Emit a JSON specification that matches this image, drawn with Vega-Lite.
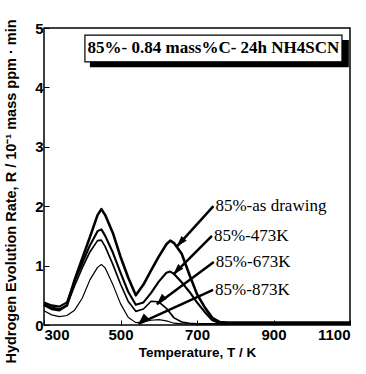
{
  "$schema": "https://vega.github.io/schema/vega-lite/v6.json",
  "width": 306,
  "height": 297,
  "autosize": {"type": "none"},
  "padding": {"left": 44, "top": 28, "right": 16, "bottom": 49},
  "background": "white",
  "datasets": {
    "tds": [
      {"T": 300, "ad": 0.34, "k473": 0.38, "k673": 0.35, "k873": 0.24},
      {"T": 320, "ad": 0.27, "k473": 0.33, "k673": 0.30, "k873": 0.17},
      {"T": 340, "ad": 0.25, "k473": 0.31, "k673": 0.27, "k873": 0.14},
      {"T": 360, "ad": 0.33, "k473": 0.38, "k673": 0.33, "k873": 0.16},
      {"T": 380, "ad": 0.76, "k473": 0.74, "k673": 0.66, "k873": 0.25},
      {"T": 400, "ad": 1.12, "k473": 1.04, "k673": 0.96, "k873": 0.45},
      {"T": 420, "ad": 1.48, "k473": 1.34, "k673": 1.23, "k873": 0.76},
      {"T": 440, "ad": 1.85, "k473": 1.58, "k673": 1.42, "k873": 0.97},
      {"T": 450, "ad": 1.95, "k473": 1.61, "k673": 1.43, "k873": 1.02},
      {"T": 460, "ad": 1.85, "k473": 1.50, "k673": 1.32, "k873": 0.96},
      {"T": 480, "ad": 1.55, "k473": 1.22, "k673": 1.02, "k873": 0.68},
      {"T": 500, "ad": 1.15, "k473": 0.88, "k673": 0.69, "k873": 0.36},
      {"T": 520, "ad": 0.80, "k473": 0.56, "k673": 0.40, "k873": 0.13},
      {"T": 540, "ad": 0.50, "k473": 0.34, "k673": 0.23, "k873": 0.04},
      {"T": 560, "ad": 0.68, "k473": 0.38, "k673": 0.27, "k873": 0.05},
      {"T": 580, "ad": 0.92, "k473": 0.54, "k673": 0.40, "k873": 0.08},
      {"T": 600, "ad": 1.15, "k473": 0.73, "k673": 0.39, "k873": 0.09},
      {"T": 620, "ad": 1.36, "k473": 0.88, "k673": 0.28, "k873": 0.07},
      {"T": 630, "ad": 1.42, "k473": 0.90, "k673": 0.20, "k873": 0.05},
      {"T": 640, "ad": 1.38, "k473": 0.86, "k673": 0.12, "k873": 0.03},
      {"T": 660, "ad": 1.20, "k473": 0.72, "k673": 0.05, "k873": 0.02},
      {"T": 680, "ad": 0.85, "k473": 0.56, "k673": 0.03, "k873": 0.02},
      {"T": 700, "ad": 0.52, "k473": 0.38, "k673": 0.02, "k873": 0.02},
      {"T": 720, "ad": 0.30, "k473": 0.22, "k673": 0.02, "k873": 0.02},
      {"T": 740, "ad": 0.12, "k473": 0.08, "k673": 0.02, "k873": 0.02},
      {"T": 760, "ad": 0.05, "k473": 0.03, "k673": 0.02, "k873": 0.02},
      {"T": 780, "ad": 0.04, "k473": 0.02, "k673": 0.02, "k873": 0.02},
      {"T": 800, "ad": 0.04, "k473": 0.02, "k673": 0.02, "k873": 0.02},
      {"T": 900, "ad": 0.04, "k473": 0.02, "k673": 0.02, "k873": 0.02},
      {"T": 1000, "ad": 0.04, "k473": 0.02, "k673": 0.02, "k873": 0.02},
      {"T": 1100, "ad": 0.04, "k473": 0.02, "k673": 0.02, "k873": 0.02}
    ],
    "callouts": [
      {"label": "85%-as drawing", "T": 743, "R": 2.0, "tipT": 647, "tipR": 1.32},
      {"label": "85%-473K", "T": 739, "R": 1.5, "tipT": 638, "tipR": 0.85},
      {"label": "85%-673K", "T": 744, "R": 1.06, "tipT": 595, "tipR": 0.35},
      {"label": "85%-873K", "T": 742, "R": 0.59, "tipT": 547, "tipR": 0.02}
    ]
  },
  "layer": [
    {
      "data": {"name": "tds"},
      "transform": [{"fold": ["ad", "k473", "k673", "k873"], "as": ["series", "R"]}],
      "mark": {"type": "line", "color": "black", "interpolate": "linear", "strokeJoin": "round"},
      "encoding": {
        "x": {
          "field": "T", "type": "quantitative",
          "scale": {"domain": [300, 1100], "nice": false, "zero": false},
          "axis": {
            "values": [300, 400, 500, 600, 700, 800, 900, 1000, 1100],
            "labelExpr": "datum.value % 200 == 100 ? '' + datum.value : ''",
            "title": "Temperature, T / K",
            "titleFontSize": 13.5,
            "titlePadding": 3,
            "labelPadding": 7
          }
        },
        "y": {
          "field": "R", "type": "quantitative",
          "scale": {"domain": [0, 5], "nice": false},
          "axis": {
            "values": [0, 0.5, 1, 1.5, 2, 2.5, 3, 3.5, 4, 4.5, 5],
            "labelExpr": "datum.value % 1 == 0 ? '' + datum.value : ''",
            "title": "Hydrogen Evolution Rate, R / 10⁻¹ mass ppm · min",
            "titleFontSize": 14.5,
            "titleX": -33,
            "titleY": 163,
            "titleBaseline": "middle",
            "labelPadding": 6
          }
        },
        "detail": {"field": "series", "type": "nominal"},
        "strokeWidth": {
          "field": "series", "type": "nominal",
          "scale": {"domain": ["ad", "k473", "k673", "k873"], "range": [2.6, 1.2, 1.2, 1]},
          "legend": null
        }
      }
    },
    {
      "data": {"name": "callouts"},
      "mark": {"type": "rule", "color": "black", "strokeWidth": 2.5},
      "encoding": {
        "x": {"field": "T", "type": "quantitative"},
        "y": {"field": "R", "type": "quantitative"},
        "x2": {"field": "tipT"},
        "y2": {"field": "tipR"}
      }
    },
    {
      "data": {"name": "callouts"},
      "mark": {"type": "point", "shape": "M0,0L-0.7,2.2L0.7,2.2Z", "filled": true, "color": "black", "opacity": 1, "size": 100},
      "encoding": {
        "x": {"field": "tipT", "type": "quantitative"},
        "y": {"field": "tipR", "type": "quantitative"},
        "angle": {
          "field": "label", "type": "nominal",
          "scale": {"domain": ["85%-as drawing", "85%-473K", "85%-673K", "85%-873K"], "range": [222, 225, 233, 246]},
          "legend": null
        }
      }
    },
    {
      "data": {"name": "callouts"},
      "mark": {"type": "text", "align": "left", "baseline": "middle", "dx": 2, "font": "Liberation Serif", "fontSize": 17, "color": "black"},
      "encoding": {
        "x": {"field": "T", "type": "quantitative"},
        "y": {"field": "R", "type": "quantitative"},
        "text": {"field": "label"}
      }
    },
    {
      "data": {"values": [{}]},
      "mark": {"type": "rect", "color": "black"},
      "encoding": {
        "x": {"datum": 420}, "x2": {"datum": 1097},
        "y": {"datum": 4.8}, "y2": {"datum": 4.34}
      }
    },
    {
      "data": {"values": [{}]},
      "mark": {"type": "rect", "fill": "white", "stroke": "black", "strokeWidth": 1.2},
      "encoding": {
        "x": {"datum": 407}, "x2": {"datum": 1079},
        "y": {"datum": 4.88}, "y2": {"datum": 4.43}
      }
    },
    {
      "data": {"values": [{"title": "85%- 0.84 mass%C- 24h NH4SCN"}]},
      "mark": {"type": "text", "align": "center", "baseline": "middle", "font": "Liberation Serif", "fontWeight": "bold", "fontSize": 17, "color": "black"},
      "encoding": {
        "x": {"datum": 743},
        "y": {"datum": 4.655},
        "text": {"field": "title"}
      }
    }
  ],
  "config": {
    "view": {"stroke": "black", "strokeWidth": 1.5},
    "axis": {
      "domain": false,
      "grid": false,
      "ticks": true,
      "tickColor": "black",
      "tickSize": -5,
      "tickWidth": 1,
      "labelFont": "Liberation Sans",
      "labelFontWeight": "bold",
      "labelFontSize": 15,
      "labelColor": "black",
      "titleFont": "Liberation Sans",
      "titleFontWeight": "bold",
      "titleColor": "black"
    }
  }
}
